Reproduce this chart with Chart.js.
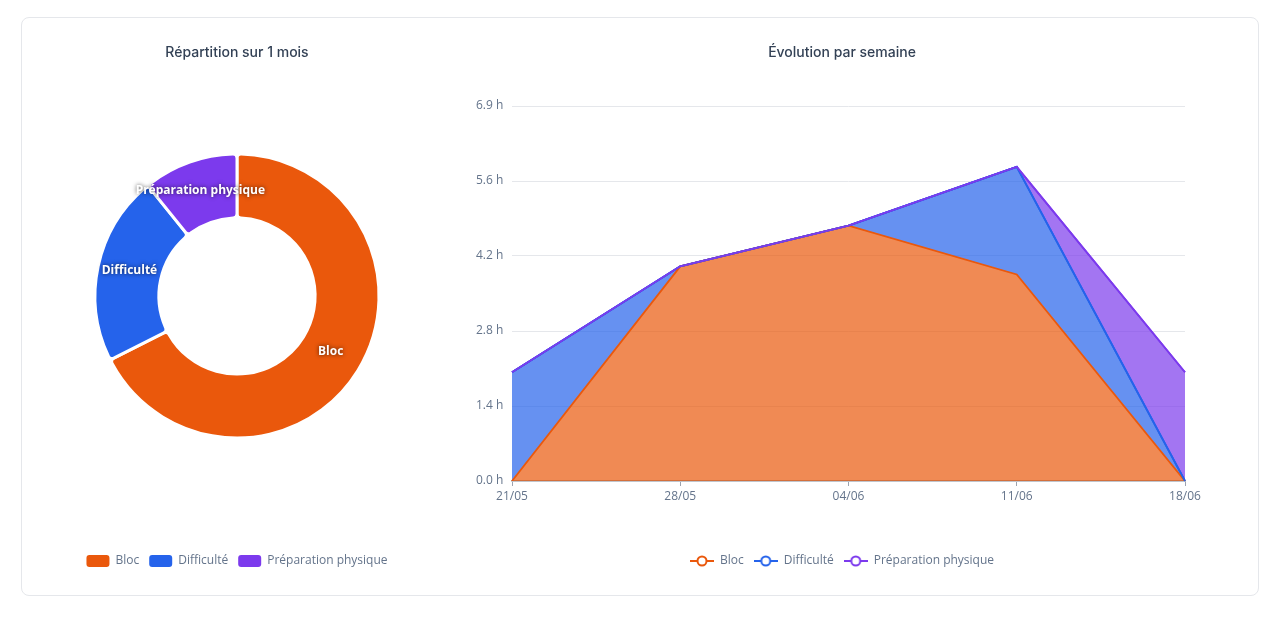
<!DOCTYPE html>
<html lang="fr">
<head>
<meta charset="utf-8">
<title>Entraînement</title>
<script src="https://cdn.jsdelivr.net/npm/chart.js@4.4.1/dist/chart.umd.min.js"></script>
<style>
  html, body { margin: 0; padding: 0; background: #fff; }
  .card {
    position: absolute; left: 21px; top: 17px; width: 1238px; height: 579px;
    box-sizing: border-box; border: 1px solid #e5e7eb; border-radius: 8px; background: #fff;
  }
  .box { position: absolute; }
  #left { left: 22px; top: 18px; width: 430px; height: 577px; }
  #right { left: 442px; top: 18px; width: 800px; height: 577px; }
</style>
</head>
<body>
<div class="card"></div>
<div class="box" id="left"><canvas id="donut"></canvas></div>
<div class="box" id="right"><canvas id="weeks"></canvas></div>
<script>
// données
const categories = ['Bloc', 'Difficulté', 'Préparation physique'];
const monthHours = [12.5, 4, 2];
const weekLabels = ['21/05', '28/05', '04/06', '11/06', '18/06'];
const blocHours = [0, 3.95, 4.7, 3.8, 0];
const diffHours = [2.0, 0, 0, 1.98, 0];
const prepaHours = [0, 0, 0, 0, 2.0];
const yTickLabels = ['0.0 h', '1.4 h', '2.8 h', '4.2 h', '5.6 h', '6.9 h'];

const colors = ['#ea580c', '#2563eb', '#7c3aed'];
const fills = ['rgba(234,88,12,0.7)', 'rgba(37,99,235,0.7)', 'rgba(124,58,237,0.7)'];

const textFont = '"Open Sans", "Noto Sans", sans-serif';
const titleFont = { family: 'Inter, sans-serif', size: 14, weight: '500' };
const titleColor = '#334155';
const tickColor = '#64748b';

// petite icône ─○─ pour la légende des courbes
function legendIcon(color) {
  const c = document.createElement('canvas');
  c.width = 24; c.height = 12;
  const g = c.getContext('2d');
  g.strokeStyle = color; g.lineWidth = 2;
  g.beginPath(); g.moveTo(0, 6); g.lineTo(24, 6); g.stroke();
  g.beginPath(); g.arc(12, 6, 4.5, 0, Math.PI * 2);
  g.fillStyle = '#fff'; g.fill(); g.stroke();
  return c;
}

// étiquettes blanches sur les parts
const arcLabels = {
  id: 'arcLabels',
  afterDatasetsDraw(chart) {
    const ctx = chart.ctx;
    const meta = chart.getDatasetMeta(0);
    ctx.save();
    ctx.font = 'bold 12px ' + textFont;
    ctx.textAlign = 'center';
    ctx.textBaseline = 'middle';
    ctx.fillStyle = '#fff';
    ctx.shadowColor = 'rgba(0,0,0,0.7)';
    ctx.shadowBlur = 4;
    meta.data.forEach((arc, i) => {
      const p = arc.tooltipPosition();
      ctx.fillText(chart.data.labels[i], p.x, p.y - 2);
    });
    ctx.restore();
  }
};

// redessine les courbes du haut de pile par-dessus
const linesOnTop = {
  id: 'linesOnTop',
  afterDatasetsDraw(chart) {
    [1, 2].forEach(i => chart.getDatasetMeta(i).dataset.draw(chart.ctx, chart.chartArea));
  }
};

new Chart(document.getElementById('donut'), {
  type: 'doughnut',
  data: {
    labels: categories,
    datasets: [{
      data: monthHours,
      backgroundColor: colors,
      borderColor: '#fff',
      borderWidth: 3,
      borderRadius: 4,
      hoverOffset: 0
    }]
  },
  options: {
    responsive: true,
    maintainAspectRatio: false,
    animation: false,
    radius: 142,
    cutout: '55%',
    layout: { padding: { bottom: 18 } },
    plugins: {
      title: {
        display: true, text: 'Répartition sur 1 mois', color: titleColor,
        font: titleFont, padding: { top: 26, bottom: 10 }
      },
      legend: {
        position: 'bottom',
        title: { display: true, text: '', padding: { top: 0, bottom: 12 }, font: { size: 10, lineHeight: 1.18 } },
        labels: {
          boxWidth: 23, boxHeight: 12, padding: 10, color: tickColor,
          font: { family: textFont, size: 12 },
          useBorderRadius: true,
          generateLabels(chart) {
            return Chart.overrides.doughnut.plugins.legend.labels.generateLabels(chart)
              .map(l => Object.assign(l, { lineWidth: 0, borderRadius: 3 }));
          }
        }
      },
      tooltip: { enabled: false }
    }
  },
  plugins: [arcLabels]
});

new Chart(document.getElementById('weeks'), {
  type: 'line',
  data: {
    labels: weekLabels,
    datasets: [
      { label: categories[0], data: blocHours, borderColor: colors[0], backgroundColor: fills[0], fill: 'origin', pointStyle: legendIcon(colors[0]) },
      { label: categories[1], data: diffHours, borderColor: colors[1], backgroundColor: fills[1], fill: '-1', pointStyle: legendIcon(colors[1]) },
      { label: categories[2], data: prepaHours, borderColor: colors[2], backgroundColor: fills[2], fill: '-1', pointStyle: legendIcon(colors[2]) }
    ]
  },
  options: {
    responsive: true,
    maintainAspectRatio: false,
    animation: false,
    layout: { padding: { left: 57, right: 57, bottom: 18 } },
    elements: {
      line: { tension: 0, borderWidth: 1.8 },
      point: { radius: 0, hoverRadius: 0 }
    },
    scales: {
      x: {
        grid: { drawOnChartArea: false, drawTicks: true, tickLength: 5, color: '#9ca3af' },
        border: { display: true, color: '#9ca3af', width: 1.5 },
        ticks: { color: tickColor, font: { family: textFont, size: 12 }, padding: 3, maxRotation: 0 },
        afterFit(scale) { scale.height = 64; }
      },
      y: {
        stacked: true,
        min: 0, max: 6.9,
        border: { display: false },
        grid: { color: '#e5e7eb', drawTicks: false },
        ticks: {
          stepSize: 1.38, mirror: true, padding: -36, color: tickColor,
          font: { family: textFont, size: 12 },
          callback: (v, i) => yTickLabels[i]
        },
        afterFit(scale) { scale.width = 13; }
      }
    },
    plugins: {
      title: {
        display: true, text: 'Évolution par semaine', color: titleColor,
        font: titleFont, padding: { top: 26, bottom: 45.2 }
      },
      legend: {
        position: 'bottom',
        labels: {
          usePointStyle: true, pointStyleWidth: 24, padding: 10, color: tickColor,
          font: { family: textFont, size: 12 }
        }
      },
      tooltip: { enabled: false }
    }
  },
  plugins: [linesOnTop]
});
</script>
</body>
</html>
